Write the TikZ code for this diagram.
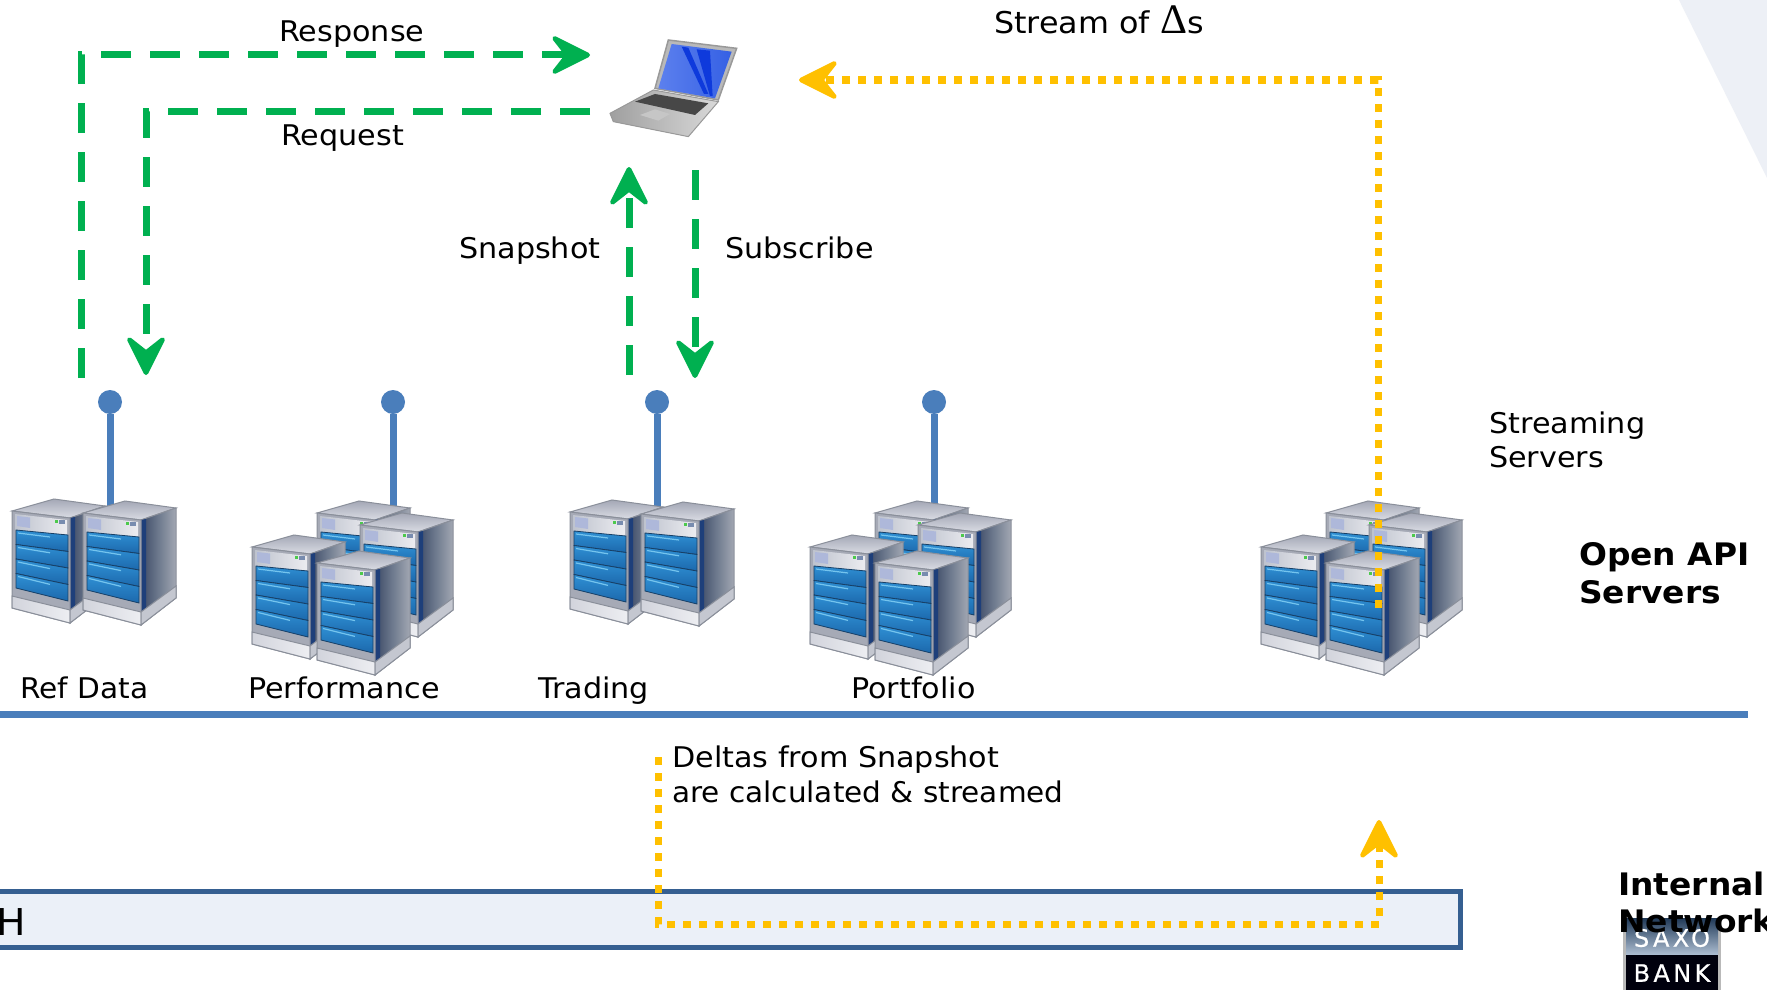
\documentclass[tikz,border=0pt]{standalone}
\usepackage{fontspec}
\setmainfont[FakeStretch=1.06]{DejaVu Sans}
\newfontfamily\symfont{Liberation Serif}
\newfontfamily\logofont[FakeBold=0.6,LetterSpace=14]{DejaVu Sans}
\usetikzlibrary{arrows.meta,calc}
\definecolor{grn}{HTML}{00B050}
\definecolor{gld}{HTML}{FFC000}
\definecolor{blu}{HTML}{4A7EBB}
\definecolor{barfill}{HTML}{EBF0F8}
\definecolor{barline}{HTML}{355F91}
\definecolor{corner}{HTML}{EDF0F6}
\definecolor{frameG}{HTML}{8A8F9A}
\definecolor{topA}{HTML}{A4A8B6}
\definecolor{topB}{HTML}{DADCE4}
\definecolor{sideA}{HTML}{3C4A66}
\definecolor{sideB}{HTML}{6E7A8E}
\definecolor{sideC}{HTML}{A2A7B2}
\definecolor{strip}{HTML}{1E3F7A}
\definecolor{frontG}{HTML}{A6AAB6}
\definecolor{plateA}{HTML}{BEC3CE}
\definecolor{plateB}{HTML}{ECECF0}
\definecolor{plateS}{HTML}{AEB8DA}
\definecolor{slatA}{HTML}{2F90D4}
\definecolor{slatB}{HTML}{1C68AC}
\definecolor{slatL}{HTML}{74C4EE}
\definecolor{slatD}{HTML}{173F66}
\definecolor{baseA}{HTML}{D2D4DC}
\definecolor{baseB}{HTML}{EDEEF2}
\definecolor{baseS}{HTML}{C4C7D0}
\definecolor{scrA}{HTML}{5C80EE}
\definecolor{scrB}{HTML}{3560E4}
\definecolor{scrR}{HTML}{0E3ADC}
\tikzset{
  lbl/.style={anchor=base west,inner sep=0pt,font=\fontsize{28.5}{34}\selectfont,text=black},
  blbl/.style={anchor=base west,inner sep=0pt,font=\fontsize{31}{37}\selectfont\bfseries,text=black},
  greenflow/.style={draw=grn,line width=7pt,dash pattern=on 30pt off 19pt},
  goldflow/.style={draw=gld,line width=7pt,dash pattern=on 8pt off 8pt},
  openhead/.style={-{Stealth[length=46pt,width=46pt,inset=18pt,round,line width=4.5pt]}},
  antenna/.style={draw=blu,line width=7pt},
  dot/.style={circle,fill=blu,inner sep=0pt,minimum size=24pt},
  pics/srv/.style={code={
    % top
    \shade[top color=topA,bottom color=topB,draw=frameG,line width=1pt] (0,0)--(42,-12)--(93,-5)--(58,7)--cycle;
    % right side
    \shade[left color=sideA,right color=sideC,middle color=sideB,draw=frameG,line width=1pt] (58,7)--(93,-5)--(93,85)--(58,112)--cycle;
    \fill[strip] (58,7)--(63,6)--(63,100)--(58,104)--cycle;
    % front
    \fill[frontG,draw=frameG,line width=1pt] (0,0)--(58,7)--(58,112)--(0,97)--cycle;
    % head plate
    \shade[left color=plateA,right color=plateB] (3,3)--(55,9)--(55,24)--(3,19)--cycle;
    \fill[plateS] (5,5)--(18,6.5)--(18,17)--(5,15)--cycle;
    \fill[green!70!black!70] (43,8.5) rectangle (46,11.5);
    \fill[strip!60!white] (47,9) rectangle (53,13);
    % blue slats
    \foreach \t in {0,1,2,3}{
      \shade[top color=slatA,bottom color=slatB,draw=slatD,line width=.8pt]
        (4,19+\t*14.5)--(56,24+\t*16.5)--(56,24+\t*16.5+16.5)--(4,19+\t*14.5+14.5)--cycle;
      \draw[slatL,line width=1.2pt] (6,22+\t*14.5)--(38,26+\t*15.8);
    }
    % base
    \shade[left color=baseA,right color=baseB,draw=frameG,line width=1pt] (0,85)--(58,99)--(58,112)--(0,97)--cycle;
    \fill[baseS,draw=frameG,line width=1pt] (58,99)--(93,73)--(93,85)--(58,112)--cycle;
  }},
}
\begin{document}
\begin{tikzpicture}[x=1pt,y=-1pt]
\clip (0,0) rectangle (1767,990);
\fill[white] (0,0) rectangle (1767,990);
\fill[corner] (1679,0)--(1767,178)--(1767,0)--cycle;

% anchors
\coordinate (respStart) at (81,378);
\coordinate (respEnd) at (590,55);
\coordinate (reqStart) at (590,111);
\coordinate (reqEnd) at (146,375);
\coordinate (snapStart) at (629,375);
\coordinate (snapEnd) at (629,167);
\coordinate (subStart) at (695,170);
\coordinate (subEnd) at (695,378);
\coordinate (streamStart) at (1378,608);
\coordinate (streamEnd) at (799,80);
\coordinate (deltaStart) at (658,757);
\coordinate (deltaCornerA) at (658,924);
\coordinate (deltaCornerB) at (1379,924);
\coordinate (deltaEnd) at (1379,820);

% antennas
\node[dot] (dotRef) at (110,402) {};
\node[dot] (dotPerf) at (393,402) {};
\node[dot] (dotTrade) at (657,402) {};
\node[dot] (dotPort) at (934,402) {};
\coordinate (srvRef) at (110,510);
\coordinate (srvPerf) at (393,510);
\coordinate (srvTrade) at (657,510);
\coordinate (srvPort) at (934,510);
\draw[antenna] (dotRef) -- (srvRef);
\draw[antenna] (dotPerf) -- (srvPerf);
\draw[antenna] (dotTrade) -- (srvTrade);
\draw[antenna] (dotPort) -- (srvPort);

% servers
\pic at (12,511) {srv}; \pic at (83,513) {srv};
\pic at (317,513) {srv}; \pic at (360,525) {srv}; \pic at (252,547) {srv}; \pic at (317,563) {srv};
\pic at (570,512) {srv}; \pic at (641,514) {srv};
\pic at (875,513) {srv}; \pic at (918,525) {srv}; \pic at (810,547) {srv}; \pic at (875,563) {srv};
\pic at (1326,513) {srv}; \pic at (1369,525) {srv}; \pic at (1261,547) {srv}; \pic at (1326,563) {srv};

% laptop (zoom coordinates)
\begin{scope}[shift={(580,20)},x=.3333pt,y=-.3333pt]
  \shade[left color=gray!75,right color=gray!30,draw=gray!80,line width=1pt] (90,280)--(220,210)--(415,245)--(325,350)--(100,305)--cycle;
  \fill[black!72] (165,245)--(225,222)--(385,250)--(345,285)--cycle;
  \fill[gray!45] (180,285)--(225,268)--(270,282)--(235,302)--cycle;
  \fill[gray!55,draw=gray!80,line width=1.5pt] (265,60)--(470,85)--(415,240)--(225,205)--cycle;
  \shade[left color=scrA,right color=scrB] (275,72)--(455,95)--(405,235)--(235,205)--cycle;
  \fill[scrR] (305,80)--(325,83)--(385,222)--(372,222)--cycle;
  \fill[scrR] (350,88)--(390,92)--(398,228)--(390,228)--cycle;
\end{scope}
\coordinate (laptop) at (675,80);

% horizontal rule, bar
\coordinate (ruleL) at (-5,714.5);
\coordinate (ruleR) at (1748,714.5);
\draw[antenna] (ruleL) -- (ruleR);
\node[draw=barline,fill=barfill,line width=5pt,inner sep=0pt,minimum width=1483pt,minimum height=56.5pt,anchor=east] (busbar) at (1462.5,919.25) {};
\node[anchor=base west,inner sep=0pt,text=black,font=\fontsize{37}{37}\selectfont] (lblH) at (-4,935) {H};

% green flows
\draw[greenflow,openhead] (respStart) |- (respEnd);
\draw[greenflow,openhead] (reqStart) -| (reqEnd);
\draw[greenflow,openhead] (snapStart) -- (snapEnd);
\draw[greenflow,openhead] (subStart) -- (subEnd);

% gold flows
\draw[goldflow,openhead] (streamStart) |- (streamEnd);
\draw[goldflow,openhead] (deltaStart) -- (deltaCornerA) -- (deltaCornerB) -- (deltaEnd);

% labels
\node[lbl] (tResp) at (279,42) {Response};
\node[lbl] (tReq) at (281,145) {Request};
\node[lbl,font=\fontsize{30}{36}\selectfont] (tStream) at (994,34) {Stream of {\symfont\fontsize{42}{42}\selectfont Δ}s};
\node[lbl] (tSnap) at (459,258) {Snapshot};
\node[lbl] (tSub) at (725,258) {Subscribe};
\node[lbl] (tStr1) at (1489,433) {Streaming};
\node[lbl] (tStr2) at (1489,467) {Servers};
\node[blbl] (tApi1) at (1579,565) {Open API};
\node[blbl] (tApi2) at (1579,603) {Servers};
\node[lbl,transform shape,xscale=.98] (tRef) at (20,698) {Ref Data};
\node[lbl] (tPerf) at (248,698) {Performance};
\node[lbl] (tTrade) at (538,698) {Trading};
\node[lbl] (tPort) at (851,698) {Portfolio};
\node[lbl] (tDelta1) at (672,767) {Deltas from Snapshot};
\node[lbl,transform shape,xscale=.977] (tDelta2) at (672,802) {are calculated \& streamed};

% logo
\fill[gray!55] (1623,918) rectangle (1721,990);
\shade[top color=barline!60!black,bottom color=barline!40!white] (1626,918) rectangle (1718,955);
\fill[black!95!blue] (1626,955) rectangle (1718,990);
\node[anchor=center,inner sep=0pt,text=white,font=\fontsize{24}{24}\selectfont] (logoA) at (1672,938) {\logofont SAXO};
\node[anchor=center,inner sep=0pt,text=white,font=\fontsize{24}{24}\selectfont] (logoB) at (1672,973) {\logofont BANK};
\node[blbl] (tInt1) at (1618,895) {Internal};
\node[blbl] (tInt2) at (1618,932) {Network};
\end{tikzpicture}
\end{document}
